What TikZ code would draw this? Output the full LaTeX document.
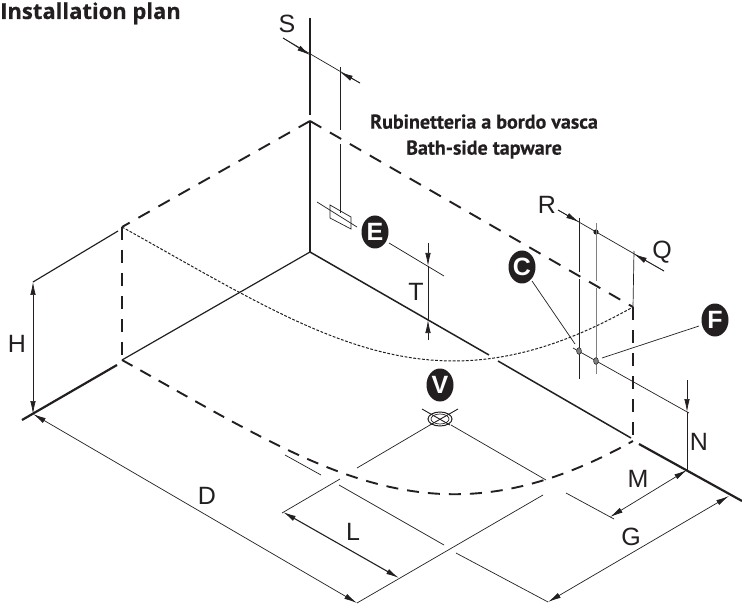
\documentclass[tikz,border=0pt]{standalone}
\usepackage{fontspec}
\setmainfont{Liberation Sans}
\newfontfamily\titlefont[BoldFeatures={FakeBold=0.4}]{PT Sans}
\newfontfamily\headfont[BoldFeatures={FakeBold=0.4}]{Open Sans}
\usepackage{tikz}
\usetikzlibrary{arrows.meta,calc,shapes.geometric}
\definecolor{ink}{HTML}{231F20}
\tikzset{
	dimtip/.tip={Latex[length=13pt,width=5.5pt]},
	dimline/.style={ink,line width=.7pt},
	dimarrow/.style={dimline,dimtip-dimtip},
	tipend/.style={dimline,-dimtip},
	wall/.style={ink,line width=1.2pt},
	heavy/.style={ink,line width=2.2pt},
	rim/.style={ink,line width=1.9pt,dash pattern=on 13pt off 10pt},
	rimcurve/.style={ink,line width=1.9pt,dash pattern=on 12pt off 9pt},
	inner/.style={ink,line width=1pt,dash pattern=on 2.8pt off 1.6pt},
	dimtext/.style={ink,font=\fontsize{25}{25}\selectfont,inner sep=0pt},
	headtext/.style={ink,font=\titlefont\bfseries\fontsize{20}{26}\selectfont,align=center,inner sep=0pt},
	badge/.style={ellipse,fill=ink,text=white,minimum width=27pt,minimum height=33pt,inner sep=0pt,font=\bfseries\fontsize{25}{25}\selectfont}
}
\begin{document}
\begin{tikzpicture}[x=1pt,y=-1pt]
	\useasboundingbox (0,0) rectangle (742,604);
	\coordinate (apex) at (310,121);
	\coordinate (back) at (310,252);
	\coordinate (rimleft) at (122,227);
	\coordinate (rimfoot) at (122,360);
	\coordinate (rimright) at (633,307);
	\coordinate (rimfootright) at (633,441);
	\coordinate (floorleft) at (33,414);
	\coordinate (floorright) at (687,470);
	\coordinate (heighttop) at (33,282);
	\coordinate (depthend) at (357,603);
	\coordinate (drain) at (440,419);

	\draw[heavy] (310,18) -- (310,115);
	\draw[wall] (apex) -- (back);
	\draw[wall] (rimfoot) -- (back);
	\draw[wall] (118,231) -- (heighttop);
	\draw[heavy] (22,420) -- (117,365);
	\draw[wall,line width=1.5pt] (back) -- (489,355);
	\draw[wall,line width=1.5pt] (498,361) -- (631,438);
	\draw[heavy] (639,444) -- (742,501);

	\draw[rim] (apex) -- (rimleft);
	\draw[rim] (apex) -- (rimright);
	\draw[rim] (rimleft) -- (rimfoot);
	\draw[rim] (rimright) -- (rimfootright);
	\draw[inner] (rimleft) .. controls (323,339) and (434,419) .. (rimright);
	\draw[rimcurve] (rimfoot) .. controls (323,472) and (434,552) .. (rimfootright);

	% dimensions
	\draw[dimline] (283,38) -- (360,83);
	\draw[tipend] (283,38) -- (310,55);
	\draw[tipend] (360,83) -- (340,72);
	\draw[dimline] (340,67) -- (340,130);
	\draw[dimline] (340,144) -- (340,213);
	\draw[dimline] (330,205) -- (351,217) -- (351,229) -- (330,218) -- cycle;
	\draw[dimline] (317,202) -- (357,227);
	\draw[dimarrow] (heighttop) -- (floorleft);
	\draw[dimarrow] (floorleft) -- (depthend);
	\draw[dimline] (389,243) -- (444,276);
	\draw[tipend] (428,243) -- (428,266);
	\draw[dimline] (428,266) -- (428,320);
	\draw[tipend] (428,340) -- (428,320);

	\draw[dimline] (558,210) -- (664,271);
	\draw[tipend] (558,210) -- (579,222);
	\draw[tipend] (664,271) -- (634,254);
	\fill[ink] (596,232) circle (2.6pt);
	\draw[dimline] (579,218) -- (579,272);
	\draw[dimline] (579,279) -- (579,379);
	\draw[dimline,line width=1pt,gray] (596,223) -- (596,281);
	\draw[dimline,line width=1pt,gray] (596,288) -- (596,374);
	\draw[dimline] (634,251) -- (rimright);
	\draw[dimline] (573,348) -- (689,413);
	\draw[ink,line width=.5pt,fill=gray] (579,351) ellipse (2.4pt and 3.4pt);
	\draw[ink,line width=.5pt,fill=gray] (596,361) ellipse (2.4pt and 3.4pt);
	\draw[tipend] (687,380) -- (687,412);
	\draw[dimline] (687,412) -- (floorright);

	\draw[dimarrow] (floorright) -- (610,517);
	\draw[dimarrow] (729,496) -- (548,602);
	\draw[dimline] (451,425) -- (546,480);
	\draw[dimline] (566,493) -- (614,519);
	\draw[dimline] (430,425) -- (357,468);
	\draw[dimline] (340,479) -- (282,513);
	\draw[dimline] (285,455) -- (321,475);
	\draw[dimline] (339,485) -- (444,545);
	\draw[dimline] (456,553) -- (548,602);
	\draw[dimline] (depthend) -- (543,495);
	\draw[ink,line width=1.1pt,dimtip-dimtip] (283,512) -- (399,578);

	% drain
	\draw[ink,line width=1pt] (drain) ellipse (12pt and 7pt);
	\draw[ink,line width=.7pt] (drain) ellipse (9pt and 5pt);
	\draw[ink,line width=.9pt] (422,409) -- (450,425);
	\draw[ink,line width=.9pt] (458,409) -- (430,425);

	% leaders
	\draw[dimline] (532,281) -- (575,344);
	\draw[dimline] (699,326) -- (602,358);

	\node[badge] (badgeE) at (375,232) {E};
	\node[badge] (badgeC) at (522,267) {C};
	\node[badge] (badgeF) at (715,320) {F};
	\node[badge] (badgeV) at (440,385) {V};

	\node[dimtext] (labelS) at (287,24) {S};
	\node[dimtext] (labelH) at (17,344) {H};
	\node[dimtext] (labelT) at (416,292) {T};
	\node[dimtext] (labelR) at (547,205) {R};
	\node[dimtext] (labelQ) at (662,252) {Q};
	\node[dimtext] (labelN) at (699,442) {N};
	\node[dimtext] (labelM) at (638,479) {M};
	\node[dimtext] (labelG) at (631,537) {G};
	\node[dimtext] (labelD) at (207,496) {D};
	\node[dimtext] (labelL) at (353,532) {L};

	\node[headtext,font=\headfont\bfseries\fontsize{22}{22}\selectfont,anchor=base west] (title) at (0,19) {Installation plan};
	\node[headtext] (tapware) at (484,136.5) {Rubinetteria a bordo vasca\\Bath-side tapware};
\end{tikzpicture}
\end{document}
